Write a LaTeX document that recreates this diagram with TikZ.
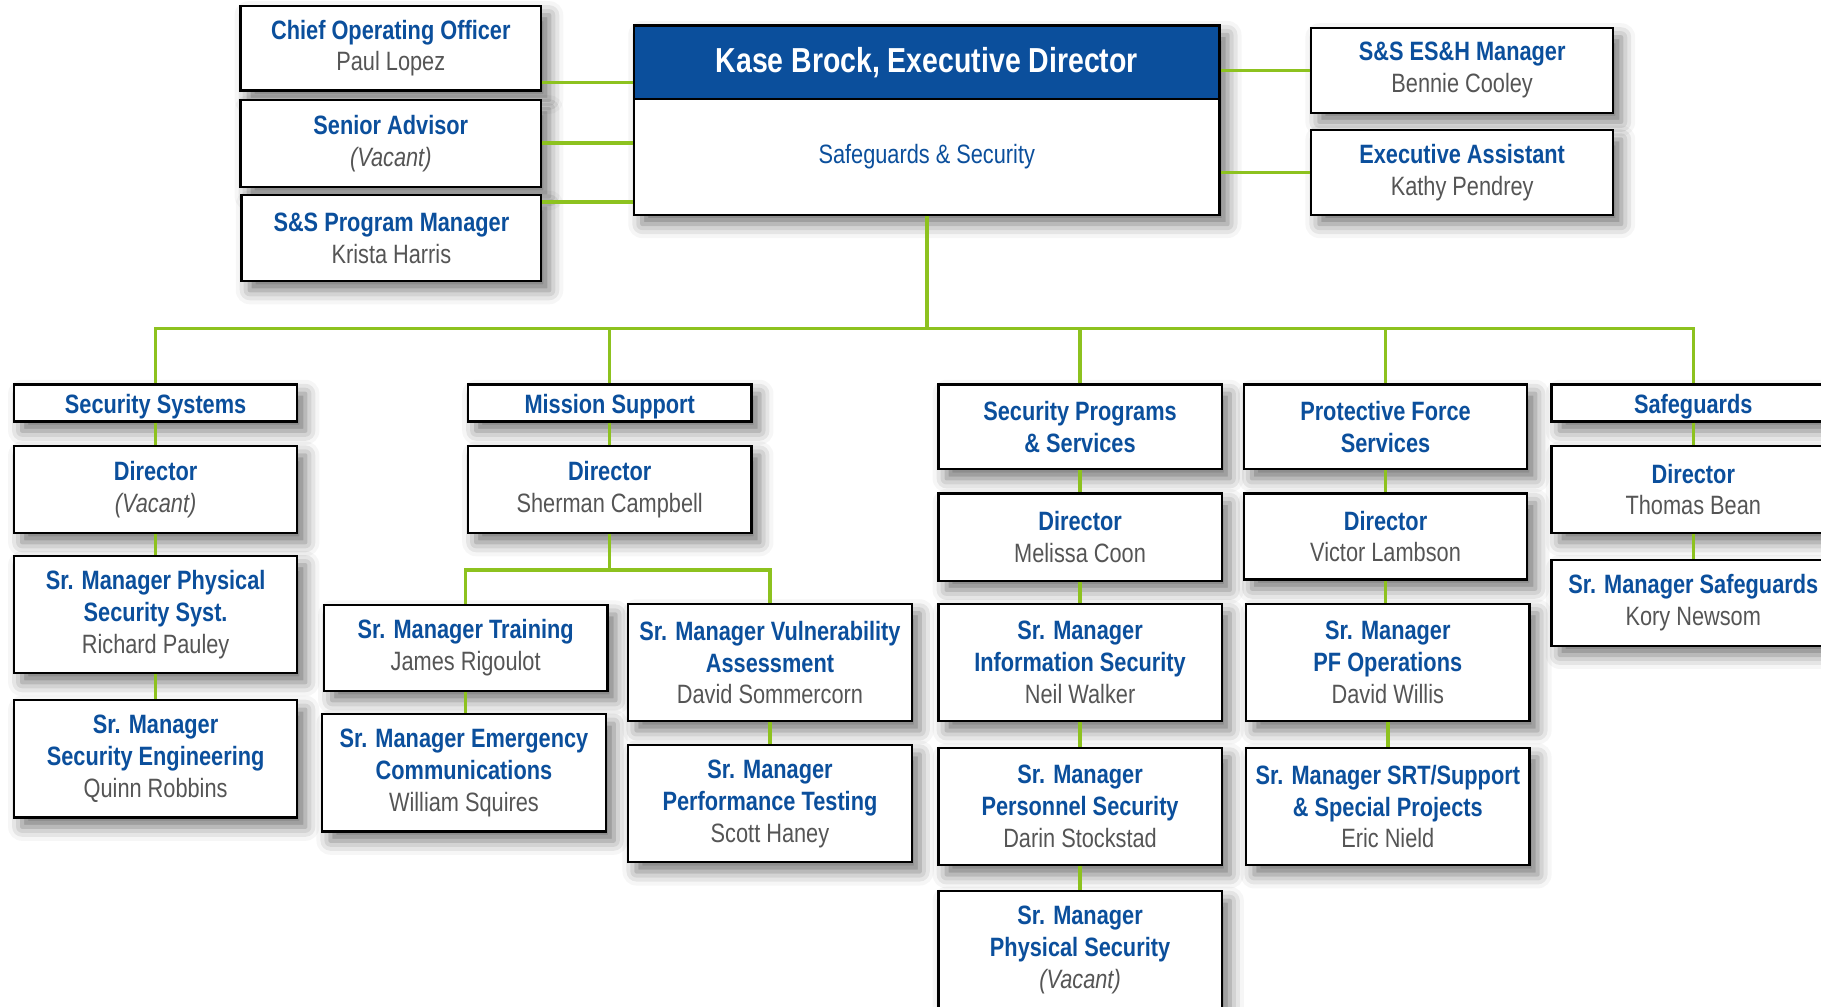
\documentclass[tikz,border=0pt]{standalone}
\usepackage{fontspec}
\setmainfont{Liberation Sans}[FakeStretch=0.82]
\usetikzlibrary{shadows.blur}

\definecolor{orgblue}{HTML}{0B4F9C}
\definecolor{orggreen}{HTML}{8DC21F}
\definecolor{orggray}{HTML}{555555}

\newcommand{\boxtitle}[1]{{\bfseries\color{orgblue}#1}}
\newcommand{\boxname}[1]{{\color{orggray}#1}}
\newcommand{\vacant}{{\color{orggray}\itshape (Vacant)}}

\tikzset{
  orgbox/.style={draw=black, line width=1.1pt, fill=white, minimum width=48.8mm,
    align=center, inner sep=1pt, font=\fontsize{13pt}{15.6pt}\selectfont,
    blur shadow={shadow xshift=1.4mm, shadow yshift=-1.6mm, shadow blur radius=2.4mm, shadow opacity=55}},
  headbox/.style={orgbox, minimum height=6.4mm, execute at begin node={\rule{0pt}{12.7pt}}},
  twobox/.style={orgbox, minimum height=15mm},
  threebox/.style={orgbox, minimum height=20.2mm},
  link/.style={draw=orggreen, line width=1.7pt}
}

\begin{document}
\begin{tikzpicture}[x=0.2mm, y=-0.2mm]
  \useasboundingbox (0,0) rectangle (1568,867);
  \clip (0,0) rectangle (1568,867);

  % executive
  \node[orgbox, minimum width=100.8mm, minimum height=32.6mm] (exec) at (798,103.5) {};
  \node[draw=black, line width=1.1pt, fill=orgblue, minimum width=100.8mm, minimum height=12.6mm,
    text=white, font=\fontsize{17pt}{20pt}\selectfont\bfseries] (exechead) at (798,54) {Kase Brock, Executive Director};
  \node[text=orgblue, font=\fontsize{13pt}{15.6pt}\selectfont] (execunit) at (798,135) {Safeguards \& Security};

  % staff
  \node[twobox, minimum width=51.8mm, minimum height=14.6mm] (coo) at (336.5,41.5) {\boxtitle{Chief Operating Officer}\\\boxname{Paul Lopez}};
  \node[twobox, minimum width=51.8mm] (advisor) at (336.5,123.5) {\boxtitle{Senior Advisor}\\\vacant};
  \node[twobox, minimum width=51.6mm, minimum height=14.8mm] (progmgr) at (337,205) {\boxtitle{S\&S Program Manager}\\\boxname{Krista Harris}};
  \node[twobox, minimum width=52mm, minimum height=14.6mm] (esh) at (1259,60.5) {\boxtitle{S\&S ES\&H Manager}\\\boxname{Bennie Cooley}};
  \node[twobox, minimum width=52mm, minimum height=14.6mm] (assist) at (1259,148.5) {\boxtitle{Executive Assistant}\\\boxname{Kathy Pendrey}};

  \draw[link] (coo.east |- 0,71) -- (exec.west |- 0,71);
  \draw[link] (advisor.east |- 0,123) -- (exec.west |- 0,123);
  \draw[link] (progmgr.east |- 0,174) -- (exec.west |- 0,174);
  \draw[link] (esh.west) -- (exec.east |- esh.west);
  \draw[link] (assist.west) -- (exec.east |- assist.west);

  % security systems
  \node[headbox] (secsys) at (134,347) {\boxtitle{Security Systems}};
  \node[twobox] (secsysdir) at (134,421.5) {\boxtitle{Director}\\\vacant};
  \node[threebox] (secsysphys) at (134,529) {\boxtitle{Sr. Manager Physical}\\\boxtitle{Security Syst.}\\\boxname{Richard Pauley}};
  \node[threebox] (secsyseng) at (134,653.5) {\boxtitle{Sr. Manager}\\\boxtitle{Security Engineering}\\\boxname{Quinn Robbins}};

  % mission support
  \node[headbox] (mission) at (525,347) {\boxtitle{Mission Support}};
  \node[twobox] (missiondir) at (525,421.5) {\boxtitle{Director}\\\boxname{Sherman Campbell}};
  \node[twobox, minimum height=14.8mm] (training) at (401,558) {\boxtitle{Sr. Manager Training}\\\boxname{James Rigoulot}};
  \node[threebox] (emergency) at (399.5,665.5) {\boxtitle{Sr. Manager Emergency}\\\boxtitle{Communications}\\\boxname{William Squires}};
  \node[threebox] (vuln) at (663,570.5) {\boxtitle{Sr. Manager Vulnerability}\\\boxtitle{Assessment}\\\boxname{David Sommercorn}};
  \node[threebox] (perftest) at (663,692) {\boxtitle{Sr. Manager}\\\boxtitle{Performance Testing}\\\boxname{Scott Haney}};

  % security programs & services
  \node[twobox, minimum height=14.6mm] (secprog) at (930,367.5) {\boxtitle{Security Programs}\\\boxtitle{\& Services}};
  \node[twobox] (secprogdir) at (930,462.5) {\boxtitle{Director}\\\boxname{Melissa Coon}};
  \node[threebox] (infosec) at (930,570.5) {\boxtitle{Sr. Manager}\\\boxtitle{Information Security}\\\boxname{Neil Walker}};
  \node[threebox] (perssec) at (930,694.5) {\boxtitle{Sr. Manager}\\\boxtitle{Personnel Security}\\\boxname{Darin Stockstad}};
  \node[threebox] (physsec) at (930,818) {\boxtitle{Sr. Manager}\\\boxtitle{Physical Security}\\\vacant};

  % protective force services
  \node[twobox, minimum height=14.6mm] (protforce) at (1193,367.5) {\boxtitle{Protective Force}\\\boxtitle{Services}};
  \node[twobox, minimum height=14.8mm] (protforcedir) at (1193,462) {\boxtitle{Director}\\\boxname{Victor Lambson}};
  \node[threebox] (pfops) at (1195,570.5) {\boxtitle{Sr. Manager}\\\boxtitle{PF Operations}\\\boxname{David Willis}};
  \node[threebox] (srt) at (1195,694.5) {\boxtitle{Sr. Manager SRT/Support}\\\boxtitle{\& Special Projects}\\\boxname{Eric Nield}};

  % safeguards
  \node[headbox] (safeg) at (1458,347) {\boxtitle{Safeguards}};
  \node[twobox] (safegdir) at (1458,421.5) {\boxtitle{Director}\\\boxname{Thomas Bean}};
  \node[twobox, minimum height=14.8mm] (safegmgr) at (1458,519) {\boxtitle{Sr. Manager Safeguards}\\\boxname{Kory Newsom}};

  % connectors
  \coordinate (bus) at (exec.south |- 0,283);
  \draw[link] (exec.south) -- (bus);
  \foreach \col in {secsys, mission, secprog, protforce, safeg}
    \draw[link] (\col.north) |- (bus);

  \draw[link] (secsys) -- (secsysdir);
  \draw[link] (secsysdir) -- (secsysphys);
  \draw[link] (secsysphys) -- (secsyseng);

  \draw[link] (mission) -- (missiondir);
  \coordinate (fork) at (missiondir.south |- 0,491);
  \draw[link] (missiondir.south) -- (fork);
  \draw[link] (training.north) |- (fork);
  \draw[link] (vuln.north) |- (fork);
  \draw[link] (training.south) -- (training.south |- emergency.north);
  \draw[link] (vuln) -- (perftest);

  \draw[link] (secprog) -- (secprogdir);
  \draw[link] (secprogdir) -- (infosec);
  \draw[link] (infosec) -- (perssec);
  \draw[link] (perssec) -- (physsec);

  \draw[link] (protforce) -- (protforcedir);
  \draw[link] (protforcedir.south) -- (protforcedir.south |- pfops.north);
  \draw[link] (pfops) -- (srt);

  \draw[link] (safeg) -- (safegdir);
  \draw[link] (safegdir) -- (safegmgr);
\end{tikzpicture}
\end{document}
